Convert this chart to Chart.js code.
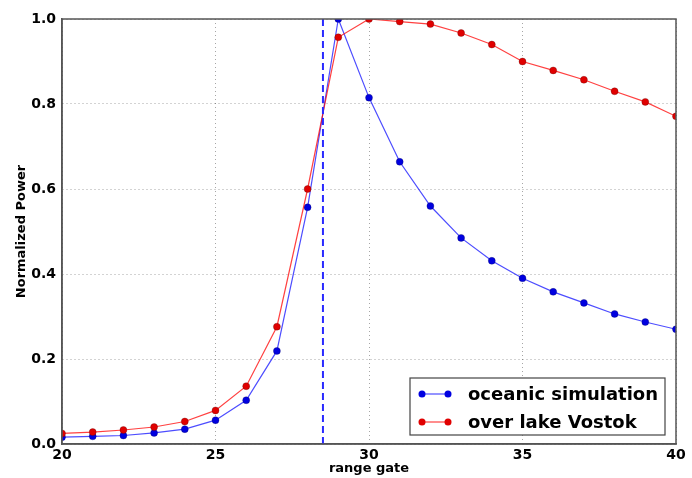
<!DOCTYPE html>
<html>
<head>
<meta charset="utf-8">
<script src="https://cdn.jsdelivr.net/npm/chart.js@4.4.1/dist/chart.umd.min.js"></script>
<style>
  html, body { margin: 0; padding: 0; background: #fff; }
  #wrap { width: 692px; height: 478px; }
</style>
</head>
<body>
<div id="wrap"><canvas id="myChart" width="692" height="478"></canvas></div>
<script>
'use strict';

// range gates on the x axis
var rangeGates = [20, 21, 22, 23, 24, 25, 26, 27, 28, 29, 30, 31, 32, 33, 34, 35, 36, 37, 38, 39, 40];

// normalized power
var oceanicSim = [0.016, 0.018, 0.020, 0.026, 0.035, 0.056, 0.103, 0.219, 0.557, 1.000, 0.815,
  0.664, 0.560, 0.485, 0.431, 0.390, 0.358, 0.332, 0.306, 0.287, 0.270];
var lakeVostok = [0.025, 0.028, 0.033, 0.040, 0.053, 0.079, 0.136, 0.276, 0.600, 0.957, 1.000,
  0.994, 0.988, 0.967, 0.940, 0.900, 0.879, 0.857, 0.830, 0.805, 0.771];

// dashed marker line
var markerGate = 28.5;

var xTicks = [20, 25, 30, 35, 40];
var yTicks = [0, 0.2, 0.4, 0.6, 0.8, 1.0];

function toPoints(xs, ys) {
  var pts = [];
  for (var i = 0; i < xs.length; i++) {
    pts.push({x: xs[i], y: ys[i]});
  }
  return pts;
}

var FONT = 'DejaVu Sans';

// frame on top and right like matplotlib
var framePlugin = {
  id: 'frame',
  afterDatasetsDraw: function(chart) {
    var a = chart.chartArea;
    var ctx = chart.ctx;
    ctx.save();
    ctx.strokeStyle = '#555';
    ctx.lineWidth = 1.5;
    ctx.strokeRect(a.left, a.top, a.right - a.left, a.bottom - a.top);
    ctx.restore();
  }
};

// legend inside the plot, lower right
var legendPlugin = {
  id: 'innerLegend',
  afterDraw: function(chart) {
    var a = chart.chartArea;
    var ctx = chart.ctx;
    var w = 255, h = 57;
    var left = a.right - 11 - w;
    var top = a.bottom - 9 - h;
    ctx.save();
    ctx.fillStyle = '#fff';
    ctx.fillRect(left, top, w, h);
    ctx.strokeStyle = '#444';
    ctx.lineWidth = 1.2;
    ctx.strokeRect(left, top, w, h);
    var items = chart.data.datasets.filter(function(d) { return d.legendIndex !== undefined; });
    items.sort(function(p, q) { return p.legendIndex - q.legendIndex; });
    ctx.font = 'bold 18px "' + FONT + '"';
    ctx.textBaseline = 'middle';
    items.forEach(function(d, i) {
      var y = top + 16 + i * 28;
      ctx.strokeStyle = d.borderColor;
      ctx.lineWidth = 1.2;
      ctx.beginPath();
      ctx.moveTo(left + 12, y);
      ctx.lineTo(left + 38, y);
      ctx.stroke();
      [left + 12, left + 38].forEach(function(px) {
        ctx.beginPath();
        ctx.arc(px, y, 3.5, 0, Math.PI * 2);
        ctx.fillStyle = d.pointBackgroundColor;
        ctx.fill();
      });
      ctx.fillStyle = '#000';
      ctx.fillText(d.label, left + 58, y + 1);
    });
    ctx.restore();
  }
};

function makeChart() {
  var ctx = document.getElementById('myChart').getContext('2d');
  var chart = new Chart(ctx, {
    type: 'line',
    data: {
      datasets: [{
        label: 'over lake Vostok',
        legendIndex: 1,
        data: toPoints(rangeGates, lakeVostok),
        borderColor: 'rgba(255, 0, 0, 0.75)',
        borderWidth: 1.2,
        pointBackgroundColor: '#e00000',
        pointBorderColor: 'rgba(80, 0, 0, 0.6)',
        pointBorderWidth: 0.5,
        pointRadius: 3.5,
        tension: 0,
        order: 1
      }, {
        label: 'oceanic simulation',
        legendIndex: 0,
        data: toPoints(rangeGates, oceanicSim),
        borderColor: 'rgba(0, 0, 255, 0.7)',
        borderWidth: 1.2,
        pointBackgroundColor: '#0000e0',
        pointBorderColor: 'rgba(0, 0, 80, 0.6)',
        pointBorderWidth: 0.5,
        pointRadius: 3.5,
        tension: 0,
        order: 2
      }, {
        label: 'marker',
        data: [{x: markerGate, y: 0}, {x: markerGate, y: 1}],
        borderColor: '#2a2aff',
        borderWidth: 2,
        borderDash: [7, 4],
        pointRadius: 0,
        order: 0
      }]
    },
    options: {
      responsive: false,
      animation: false,
      events: [],
      layout: { padding: { left: 0, top: 19, right: 16, bottom: 0 } },
      plugins: { legend: { display: false }, tooltip: { enabled: false } },
      scales: {
        x: {
          type: 'linear',
          min: 20,
          max: 40,
          afterFit: function(scale) { scale.height = 34; },
          afterBuildTicks: function(scale) {
            scale.ticks = xTicks.map(function(v) { return {value: v}; });
          },
          ticks: {
            padding: 3,
            color: '#000',
            maxRotation: 0,
            font: { family: FONT, size: 14, weight: 'bold' }
          },
          grid: {
            color: 'rgba(0,0,0,0.35)',
            lineWidth: 1,
            drawTicks: false
          },
          border: { display: true, color: '#555', width: 1.5, dash: [1, 3] },
          title: {
            display: true,
            text: 'range gate',
            color: '#000',
            padding: { top: 0, bottom: 2 },
            font: { family: FONT, size: 13, weight: 'bold' }
          }
        },
        y: {
          min: 0,
          max: 1,
          afterFit: function(scale) { scale.width = 62; },
          afterBuildTicks: function(scale) {
            scale.ticks = yTicks.map(function(v) { return {value: v}; });
          },
          ticks: {
            padding: 6,
            color: '#000',
            font: { family: FONT, size: 14, weight: 'bold' },
            callback: function(v) { return Number(v).toFixed(1); }
          },
          grid: {
            color: 'rgba(0,0,0,0.35)',
            lineWidth: 1,
            drawTicks: false
          },
          border: { display: true, color: '#555', width: 1.5, dash: [1, 3] },
          title: {
            display: true,
            text: 'Normalized Power',
            color: '#000',
            padding: { top: 14, bottom: 0 },
            font: { family: FONT, size: 13, weight: 'bold' }
          }
        }
      }
    },
    plugins: [framePlugin, legendPlugin]
  });
  return chart;
}

makeChart();
</script>
</body>
</html>
